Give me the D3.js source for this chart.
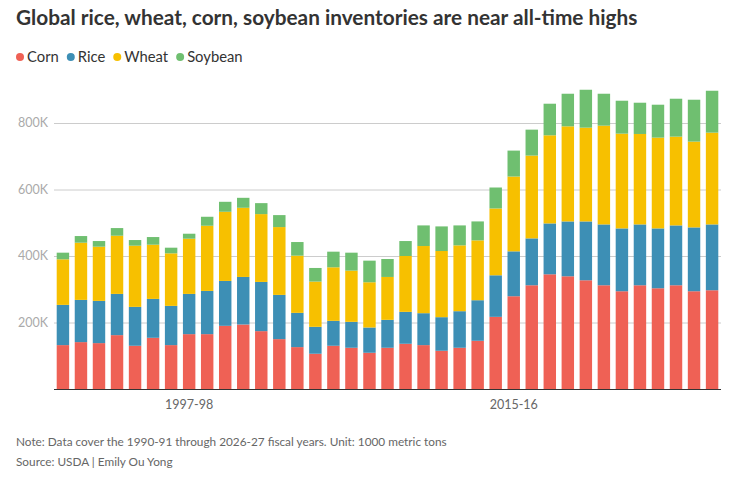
<!DOCTYPE html>
<html>
<head>
<meta charset="utf-8">
<script src="https://cdn.jsdelivr.net/npm/d3@7"></script>
<style>
  body { margin: 0; background: #fff; font-family: Lato, "Noto Sans", sans-serif; }
  .title { font-weight: 700; font-size: 20.8px; fill: #333; }
  .legend text { font-size: 14.8px; fill: #333; }
  .grid line { stroke: #ccc; }
  .ylab { font-size: 12.5px; fill: #aaa; }
  .xlab { font-size: 12.5px; fill: #666; }
  .foot { font-size: 11.8px; fill: #666; }
</style>
</head>
<body>
<div id="body"></div>
<script>
// fiscal years 1990-91 .. 2026-27, values in 1000 metric tons (K)
var years = d3.range(1990, 2027).map(y => y + "-" + String((y + 1) % 100).padStart(2, "0"));

var corn = [132, 141, 138, 162, 130, 154, 132, 165, 165, 190, 194, 174, 150, 126, 106, 130, 124, 109, 124,
            136, 132, 115, 124, 145, 217, 279, 312, 345, 339, 327, 312, 294, 312, 303, 312, 294, 297];
var rice = [121, 127, 127, 124, 117, 117, 118, 121, 130, 135, 143, 148, 133, 103, 81, 75, 78, 76, 84,
            96, 96, 101, 110, 122, 125, 135, 141, 153, 165, 177, 183, 189, 183, 180, 180, 192, 198];
var wheat = [137, 172, 163, 175, 184, 163, 158, 166, 196, 208, 208, 204, 204, 172, 136, 161, 154, 136, 129,
             168, 202, 199, 198, 180, 201, 225, 249, 265, 286, 282, 297, 285, 272, 273, 267, 258, 276];
var soybean = [20, 20, 17, 23, 17, 23, 17, 15, 27, 30, 30, 33, 36, 41, 41, 47, 54, 65, 54,
               45, 62, 74, 60, 57, 63, 78, 78, 95, 98, 114, 96, 99, 94, 99, 114, 126, 126];

var crops = ["Corn", "Rice", "Wheat", "Soybean"];
var colors = ["#ef6155", "#3d8fb5", "#f7c000", "#6fbf70"];
var yTicks = [200, 400, 600, 800];
var xTicks = ["1997-98", "2015-16"];

var W = 748, H = 479;
var margin = { top: 80, right: 27, bottom: 90, left: 54 };

var rows = years.map((y, i) => ({ year: y, Corn: corn[i], Rice: rice[i], Wheat: wheat[i], Soybean: soybean[i] }));
var series = d3.stack().keys(crops)(rows);

var x = d3.scaleBand()
    .domain(years)
    .range([margin.left, W - margin.right])
    .paddingInner(0.31)
    .paddingOuter(0.15);

var y = d3.scaleLinear()
    .domain([0, 800])
    .range([389, 123]);

var color = d3.scaleOrdinal().domain(crops).range(colors);

var svg = d3.select("#body").append("svg")
    .attr("width", W)
    .attr("height", H);

svg.append("text")
    .attr("class", "title")
    .attr("x", 16)
    .attr("y", 25)
    .text("Global rice, wheat, corn, soybean inventories are near all-time highs");

var legend = svg.append("g").attr("class", "legend");
var lx = 16;
crops.forEach(c => {
    var g = legend.append("g").attr("transform", `translate(${lx},57)`);
    g.append("circle").attr("cx", 4).attr("cy", 0).attr("r", 4).attr("fill", color(c));
    var t = g.append("text").attr("x", 11).attr("dy", "0.35em").text(c);
    lx += 11 + t.node().getComputedTextLength() + 8;
});

// grid
svg.append("g")
    .attr("class", "grid")
    .selectAll("line")
    .data(yTicks)
    .join("line")
    .attr("x1", margin.left)
    .attr("x2", W - margin.right)
    .attr("y1", d => y(d) + 0.5)
    .attr("y2", d => y(d) + 0.5);

svg.append("g")
    .selectAll("text")
    .data(yTicks)
    .join("text")
    .attr("class", "ylab")
    .attr("x", 48)
    .attr("y", d => y(d))
    .attr("dy", "0.35em")
    .attr("text-anchor", "end")
    .text(d => d + "K");

svg.append("g")
    .selectAll("g")
    .data(series)
    .join("g")
    .attr("fill", d => color(d.key))
    .selectAll("rect")
    .data(d => d)
    .join("rect")
    .attr("x", d => x(d.data.year))
    .attr("width", x.bandwidth())
    .attr("y", d => y(d[1]))
    .attr("height", d => y(d[0]) - y(d[1]));

svg.append("line")
    .attr("x1", margin.left)
    .attr("x2", W - margin.right)
    .attr("y1", y(0) + 0.5)
    .attr("y2", y(0) + 0.5)
    .attr("stroke", "#333");

svg.append("g")
    .selectAll("text")
    .data(xTicks)
    .join("text")
    .attr("class", "xlab")
    .attr("x", d => x(d) + x.bandwidth() / 2)
    .attr("y", 405)
    .attr("dy", "0.35em")
    .attr("text-anchor", "middle")
    .text(d => d);

svg.append("text")
    .attr("class", "foot")
    .attr("x", 16)
    .attr("y", 442)
    .attr("dy", "0.35em")
    .text("Note: Data cover the 1990-91 through 2026-27 fiscal years. Unit: 1000 metric tons");

svg.append("text")
    .attr("class", "foot")
    .attr("x", 16)
    .attr("y", 462)
    .attr("dy", "0.35em")
    .text("Source: USDA | Emily Ou Yong");
</script>
</body>
</html>
